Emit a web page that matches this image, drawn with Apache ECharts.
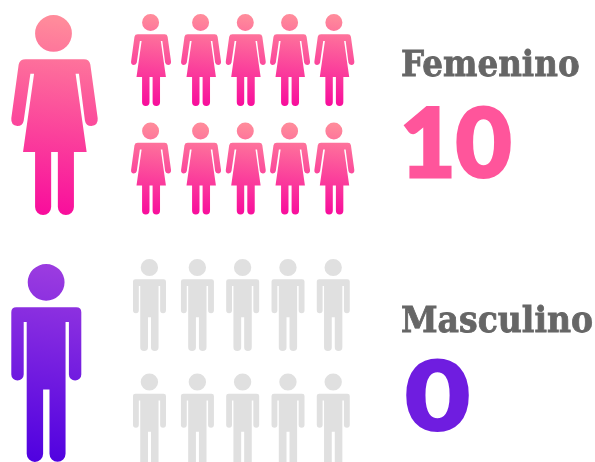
<!DOCTYPE html>
<html><head><meta charset="utf-8">
<style>html,body{margin:0;padding:0;background:#fff}#c{width:595px;height:462px}</style>
<script src="https://cdn.jsdelivr.net/npm/echarts@6/dist/echarts.min.js"></script>
</head><body><div id="c"></div>
<script>
// data
const groupNames = ['Femenino', 'Masculino'];
const groupCounts = [10, 0];
const iconColumns = ['1', '2', '3', '4', '5'];
const iconRows = ['1', '2'];

// icon shapes
const femalePath = 'path://M161 46A55 55 0 0 1 161 156A55 55 0 0 1 161 46ZM78 178L252 178Q268 178 271 194L293 355Q295 376 274 378Q258 378 255 362L237 222L227 222L260 456L222 456L222 620A24 24 0 0 1 174 620L174 456L154 456L154 620A24 24 0 0 1 106 620L106 456L70 456L103 222L92 222L72 362Q69 378 53 378Q33 376 35 355L57 194Q60 178 78 178Z';
const malePath = 'path://M139 72A55 55 0 0 1 139 182A55 55 0 0 1 139 72ZM50 202L229 202Q244 202 244 217L244 403A18.5 18.5 0 0 1 207 403L207 246L197 246L197 641A24 24 0 0 1 149 641L149 448L130 448L130 641A24.5 24.5 0 0 1 81 641L81 246L72 246L72 403A18.5 18.5 0 0 1 35 403L35 217Q35 202 50 202Z';

// styling and layout
const gradients = [['#ff8b9b', '#f80a9c'], ['#9a3be0', '#4e00e0']];
const emptyColor = '#e0e0e0';
const numberColors = ['#ff559b', '#6f1de0'];
const titleColor = '#666666';
const paths = [femalePath, malePath];
const smallSizes = [[40, 92], [33, 92]];
const bigSizes = [[86.5, 200], [70, 198]];
const smallGrids = [
  {left: 130.5, top: 60, width: 227.5, height: 108.5},
  {left: 128.5, top: 305, width: 228.75, height: 114.5}
];
const bigGrids = [
  {left: 4.5, top: 15, width: 100, height: 200},
  {left: 16.3, top: 264, width: 60, height: 198}
];
const columnNudges = [[-2.2, 2.3, 1.5, 0.3, -0.9], [-1.9, 0.3, -0.2, -0.6, -1.1]];
const titleBoxes = [{x: 401, y: 49, sx: 0.93}, {x: 401, y: 305, sx: 0.945}];
const numberBoxes = [{x: 400, y: 98.5, sx: 1}, {x: 405.5, y: 351.5, sx: 1.15}];

function grad(c) {
  return new echarts.graphic.LinearGradient(0.05, 0, 0, 1, [{offset: 0, color: c[0]}, {offset: 1, color: c[1]}]);
}

const grid = [], xAxis = [], yAxis = [], series = [], graphic = [];
groupNames.forEach((name, g) => {
  // small icon block
  let idx = grid.length;
  grid.push(smallGrids[g]);
  xAxis.push({type: 'category', gridIndex: idx, data: iconColumns, show: false});
  yAxis.push({type: 'category', gridIndex: idx, data: iconRows, show: false, inverse: true, boundaryGap: false});
  const cells = [];
  iconRows.forEach((r, ri) => iconColumns.forEach((c, ci) => {
    const filled = ri * iconColumns.length + ci < groupCounts[g];
    cells.push({
      value: [ci, ri],
      symbolOffset: [columnNudges[g][ci], 0],
      itemStyle: {color: filled ? grad(gradients[g]) : emptyColor, opacity: 1}
    });
  }));
  series.push({type: 'scatter', xAxisIndex: idx, yAxisIndex: idx, symbol: paths[g], symbolSize: smallSizes[g], symbolKeepAspect: false, data: cells, silent: true, animation: false});

  // large icon
  idx = grid.length;
  grid.push(bigGrids[g]);
  xAxis.push({type: 'category', gridIndex: idx, data: [name], show: false});
  yAxis.push({type: 'category', gridIndex: idx, data: [name], show: false});
  series.push({type: 'scatter', xAxisIndex: idx, yAxisIndex: idx, symbol: paths[g], symbolSize: bigSizes[g], symbolKeepAspect: false,
    data: [{value: [0, 0], itemStyle: {color: grad(gradients[g]), opacity: 1}}], silent: true, animation: false});

  // text
  graphic.push({type: 'text', x: titleBoxes[g].x, y: titleBoxes[g].y, scaleX: titleBoxes[g].sx, silent: true,
    style: {text: name, fill: titleColor, stroke: titleColor, lineWidth: 0.8, font: 'bold 35px "DejaVu Serif"', textVerticalAlign: 'top'}});
  graphic.push({type: 'text', x: numberBoxes[g].x, y: numberBoxes[g].y, scaleX: numberBoxes[g].sx, silent: true,
    style: {text: String(groupCounts[g]), fill: numberColors[g], stroke: numberColors[g], lineWidth: 3, lineJoin: 'round', font: '900 96px Lato', textVerticalAlign: 'top'}});
});

const chart = echarts.init(document.getElementById('c'), null, {renderer: 'canvas'});
chart.setOption({animation: false, backgroundColor: '#ffffff', grid, xAxis, yAxis, series, graphic});
</script></body></html>
